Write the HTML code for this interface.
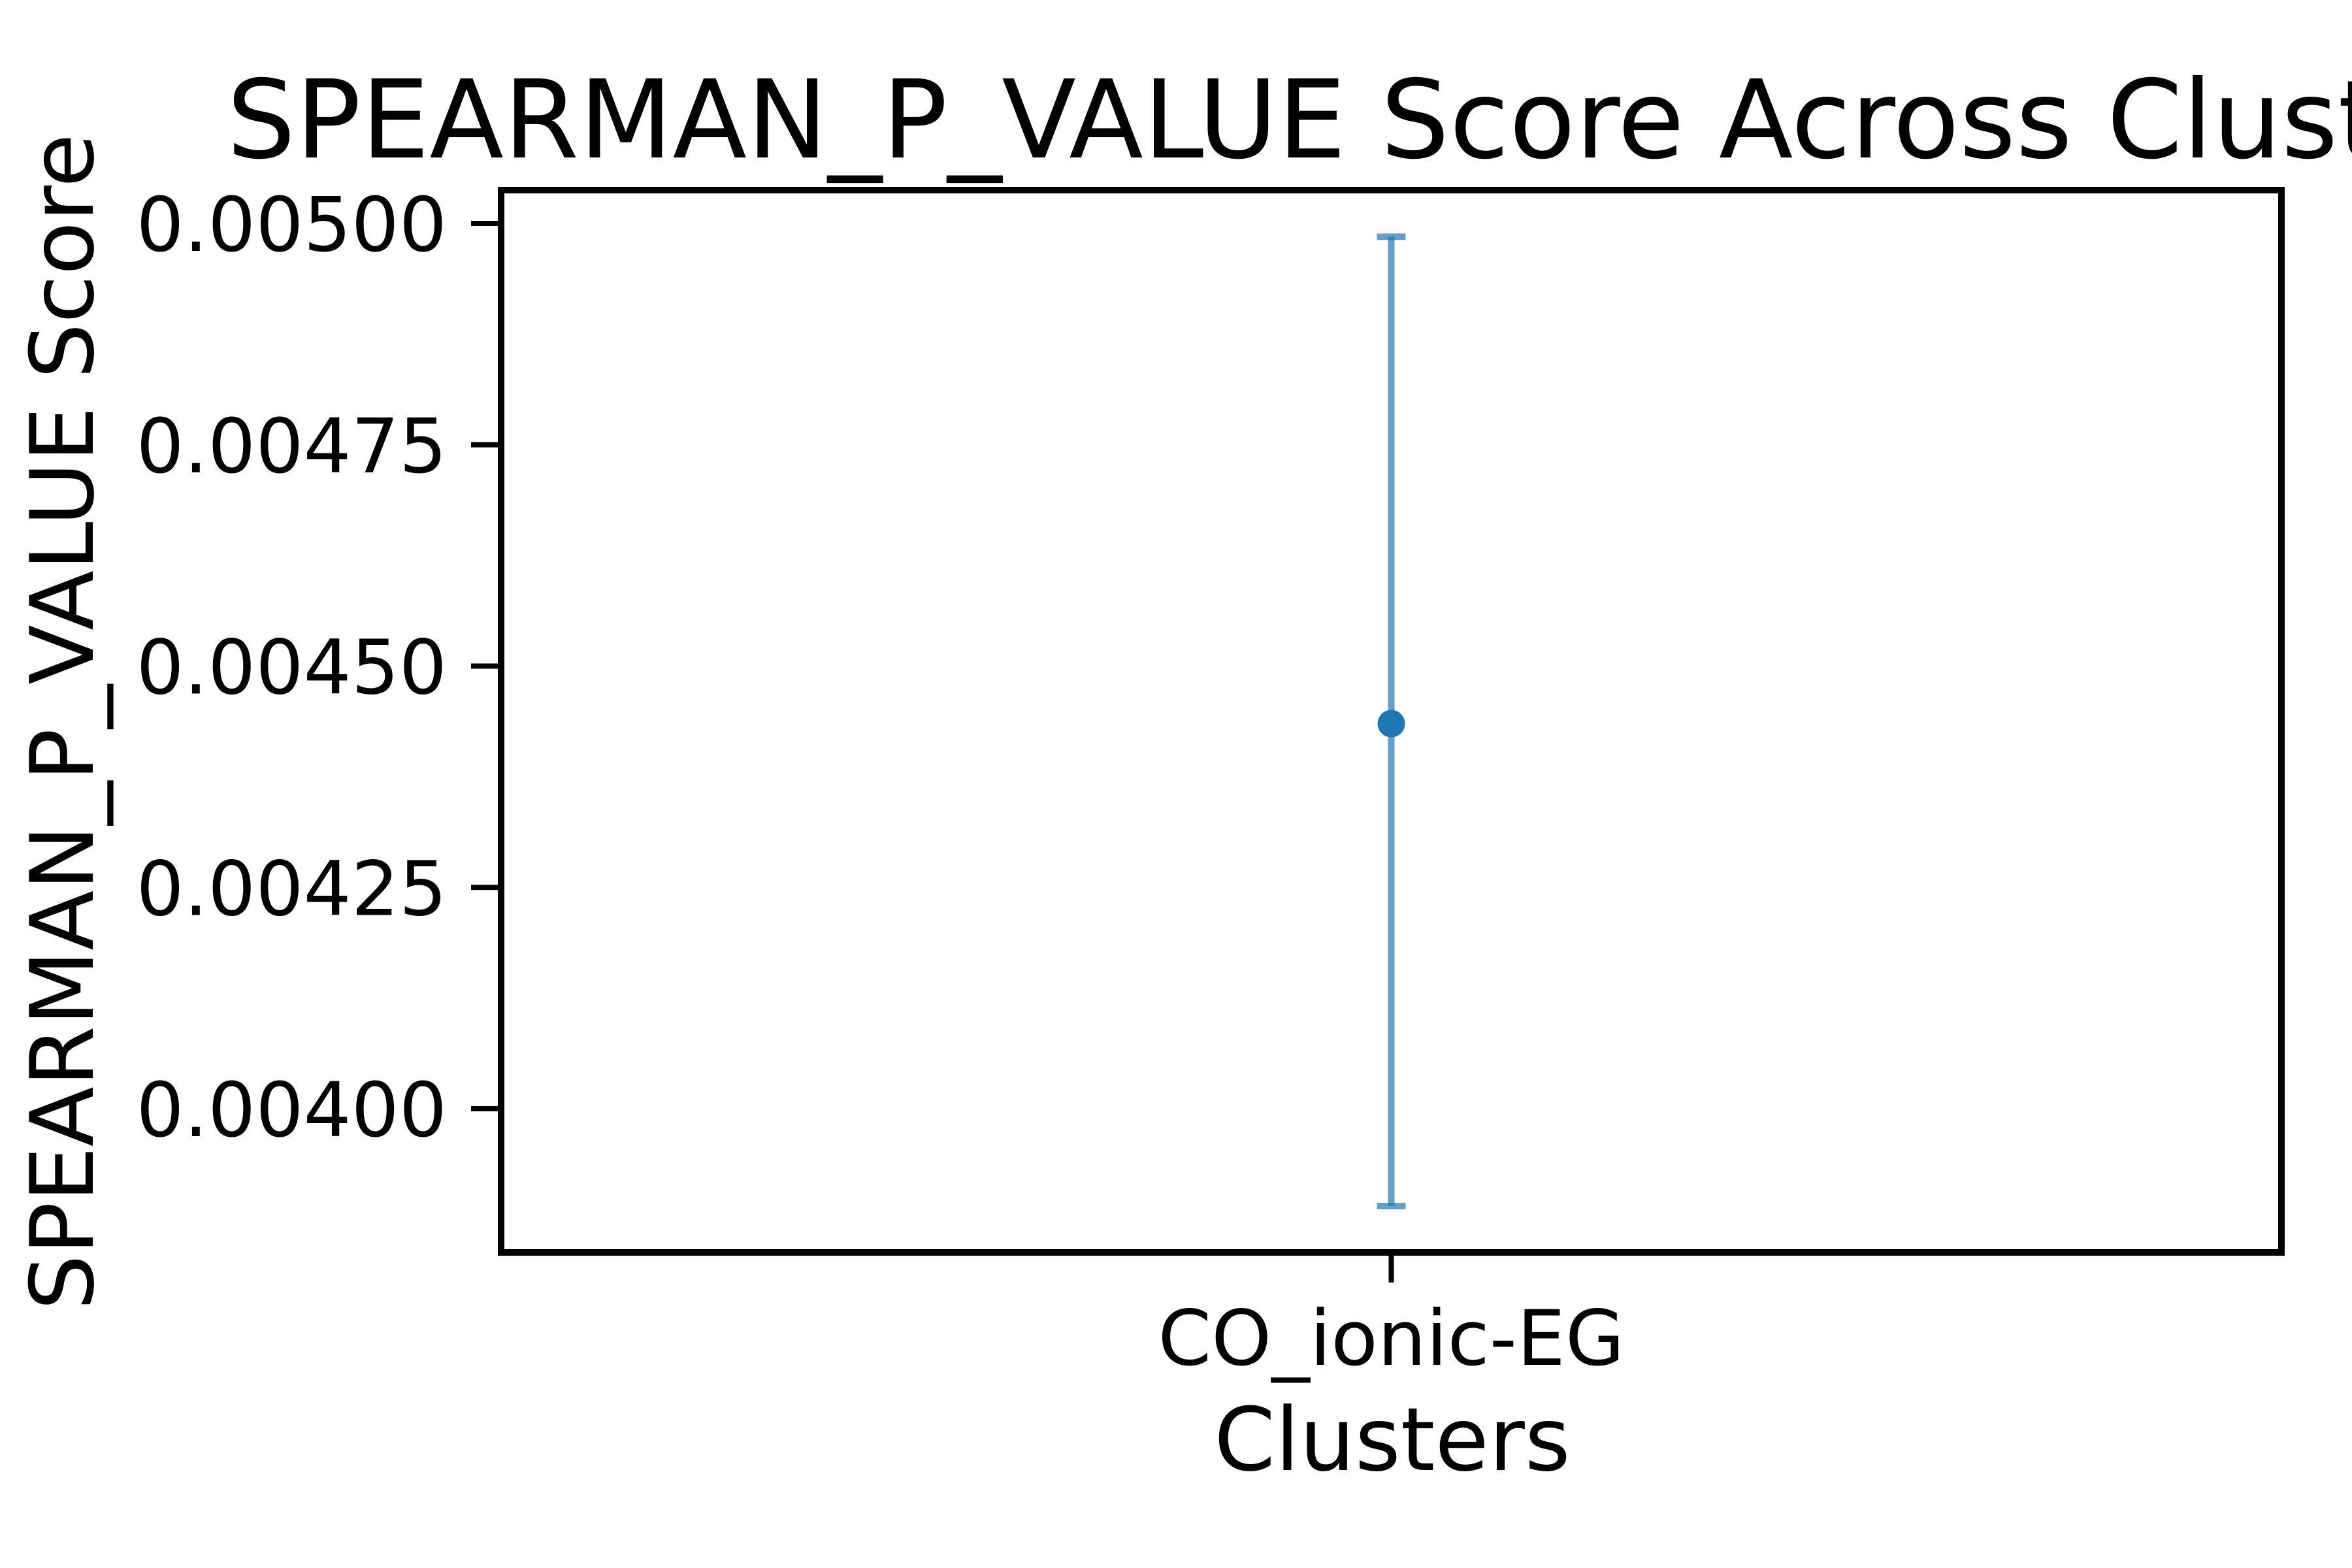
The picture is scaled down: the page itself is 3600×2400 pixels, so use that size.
<!DOCTYPE html>
<html><head><meta charset="utf-8"><style>
html,body{margin:0;padding:0;background:#fff;}
svg{display:block;font-family:"DejaVu Sans","Liberation Sans",sans-serif;}
</style></head><body>
<svg id="chart" width="3600" height="2400" viewBox="0 0 3600 2400" xmlns="http://www.w3.org/2000/svg">
<rect x="0" y="0" width="3600" height="2400" fill="#fff"/>
<text x="347" y="241" font-size="166" fill="#000">SPEARMAN_P_VALUE Score Across Clusters</text>
<g id="plot"></g>
<rect x="767" y="291" width="2725" height="1626" fill="none" stroke="#000" stroke-width="10"/>
<text transform="translate(142,1105) rotate(-90)" text-anchor="middle" font-size="134" fill="#000">SPEARMAN_P_VALUE Score</text>
<text x="2131" y="2250" text-anchor="middle" font-size="134" fill="#000">Clusters</text>
</svg>
<script>
const categories = ["CO_ionic-EG"];
const means = [0.004435];
const errLow = [0.00389];
const errHigh = [0.004985];
const yTicks = [0.004, 0.00425, 0.0045, 0.00475, 0.005];
const yTickLabels = ["0.00400", "0.00425", "0.00450", "0.00475", "0.00500"];

const NS = "http://www.w3.org/2000/svg";
const svg = document.getElementById('chart');
const g = document.getElementById('plot');
const L = 767, R = 3492, T = 291, B = 1917;
const y = v => 1697 - (v - 0.004) * 1355000;
const x = i => L + (R - L) * (i + 0.5) / categories.length;
function mk(tag, attrs, parent){ const e = document.createElementNS(NS, tag); for (const k in attrs) e.setAttribute(k, attrs[k]); (parent||g).appendChild(e); return e; }

yTicks.forEach((v, i) => {
  const t = mk('line', {x1: L - 46, x2: L, y1: y(v), y2: y(v), stroke: '#000', 'stroke-width': 8}, svg);
  
  
  const lb = mk('text', {x: 684, y: y(v) + 42, 'text-anchor': 'end', 'font-size': 115, fill: '#000'}, svg);
  lb.textContent = yTickLabels[i];
  
  
});
categories.forEach((c, i) => {
  const cx = x(i);
  const t = mk('line', {x1: cx, x2: cx, y1: B, y2: B + 46, stroke: '#000', 'stroke-width': 8}, svg);
  
  
  const lb = mk('text', {x: cx, y: 2089, 'text-anchor': 'middle', 'font-size': 117, fill: '#000'}, svg);
  lb.textContent = c;
  
  
  const eb = mk('g', {stroke: '#1f77b4', 'stroke-opacity': 0.7, 'stroke-width': 10});
  
  
  mk('line', {x1: cx, x2: cx, y1: y(errHigh[i]), y2: y(errLow[i])}, eb);
  mk('line', {x1: cx - 22, x2: cx + 22, y1: y(errHigh[i]), y2: y(errHigh[i])}, eb);
  mk('line', {x1: cx - 22, x2: cx + 22, y1: y(errLow[i]), y2: y(errLow[i])}, eb);
  const p = mk('circle', {cx: cx, cy: y(means[i]), r: 21, fill: '#1f77b4'});
  
  
});
</script>
</body></html>
